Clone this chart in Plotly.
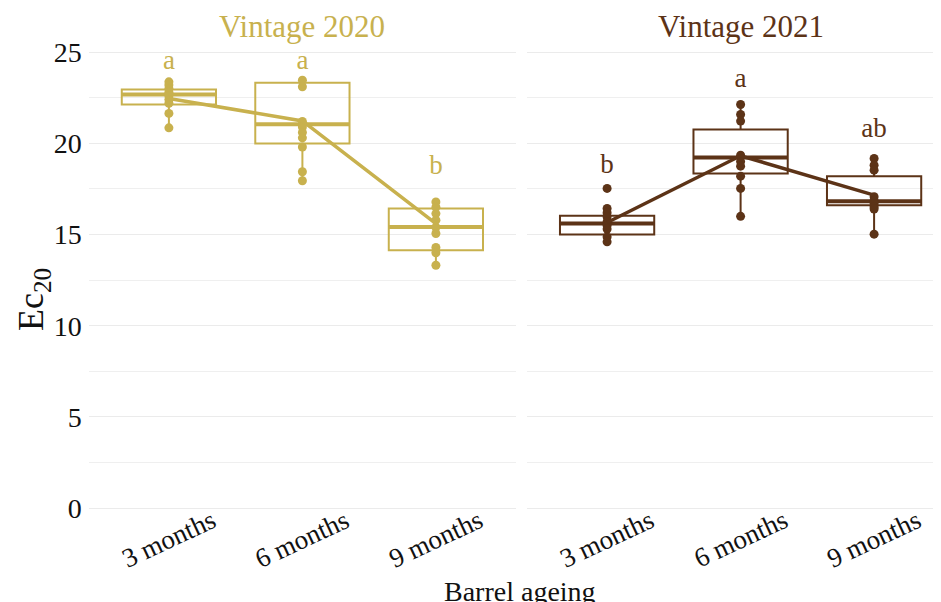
import plotly.graph_objects as go

categories = ["3 months", "6 months", "9 months"]
cat_pos = [1, 2, 3]

# Vintage 2020 individual values
v2020_3m = [23.37, 23.2, 23.0, 22.8, 22.6, 22.4, 22.2, 21.64, 20.85]
v2020_6m = [23.46, 23.1, 21.2, 20.9, 20.6, 20.3, 19.8, 18.44, 17.95]
v2020_9m = [16.79, 16.5, 16.15, 15.79, 15.4, 15.06, 14.29, 14.0, 13.32]
# Vintage 2021 individual values
v2021_3m = [17.53, 16.43, 16.2, 15.97, 15.7, 15.5, 15.3, 14.87, 14.6]
v2021_6m = [22.13, 21.58, 21.22, 19.35, 19.0, 18.75, 18.2, 17.53, 16.0]
v2021_9m = [19.17, 18.8, 18.53, 17.07, 16.85, 16.7, 16.52, 16.4, 15.02]

# Box statistics
v2020_q1 = [22.13, 19.99, 14.14]
v2020_median = [22.68, 21.05, 15.42]
v2020_q3 = [22.95, 23.32, 16.43]
v2020_lower = [20.85, 17.95, 13.32]
v2020_upper = [23.37, 23.46, 16.79]
v2020_mean = [22.46, 21.23, 15.6]
v2020_letters = ["a", "a", "b"]
v2020_letter_y = [24.46, 24.46, 18.69]

v2021_q1 = [15.0, 18.35, 16.61]
v2021_median = [15.61, 19.23, 16.83]
v2021_q3 = [16.03, 20.76, 18.2]
v2021_lower = [14.6, 16.0, 15.02]
v2021_upper = [16.43, 22.13, 19.17]
v2021_mean = [15.66, 19.32, 17.16]
v2021_letters = ["b", "a", "ab"]
v2021_letter_y = [18.75, 23.45, 20.7]

y_ticks = [0, 5, 10, 15, 20, 25]

GOLD = "#C8B14E"
BROWN = "#5C3317"
TXT = "#111111"
FONT = "Liberation Serif"
BOX_W = 0.706
OFF = 8  # page body margin offset

fig = go.Figure()


def add_panel(xa, ya, color, q1, med, q3, lo, hi, mean, pts, letters, letter_y):
    fig.add_trace(go.Box(
        x=cat_pos, q1=q1, median=med, q3=q3, lowerfence=lo, upperfence=hi,
        width=BOX_W, boxpoints=False, whiskerwidth=0,
        line=dict(color=color, width=2), fillcolor="rgba(0,0,0,0)",
        xaxis=xa, yaxis=ya, showlegend=False, hoverinfo="skip"))
    mx, my = [], []
    for c, m in zip(cat_pos, med):
        mx += [c - BOX_W / 2, c + BOX_W / 2, None]
        my += [m, m, None]
    fig.add_trace(go.Scatter(x=mx, y=my, mode="lines",
                             line=dict(color=color, width=4),
                             xaxis=xa, yaxis=ya, showlegend=False, hoverinfo="skip"))
    px, py = [], []
    for c, vals in zip(cat_pos, pts):
        px += [c] * len(vals)
        py += vals
    fig.add_trace(go.Scatter(x=px, y=py, mode="markers",
                             marker=dict(color=color, size=9),
                             xaxis=xa, yaxis=ya, showlegend=False))
    fig.add_trace(go.Scatter(x=cat_pos, y=mean, mode="lines",
                             line=dict(color=color, width=3.5),
                             xaxis=xa, yaxis=ya, showlegend=False))
    fig.add_trace(go.Scatter(x=cat_pos, y=letter_y, mode="text", text=letters,
                             textposition="middle center",
                             textfont=dict(family=FONT, size=27, color=color),
                             xaxis=xa, yaxis=ya, showlegend=False, hoverinfo="skip"))


add_panel("x", "y", GOLD, v2020_q1, v2020_median, v2020_q3, v2020_lower, v2020_upper,
          v2020_mean, [v2020_3m, v2020_6m, v2020_9m], v2020_letters, v2020_letter_y)
add_panel("x2", "y2", BROWN, v2021_q1, v2021_median, v2021_q3, v2021_lower, v2021_upper,
          v2021_mean, [v2021_3m, v2021_6m, v2021_9m], v2021_letters, v2021_letter_y)

W, H = 941 - OFF, 602 - OFF
top, bottom = 39 - OFF, 510 - OFF
grid = dict(showgrid=True, gridcolor="#EBEBEB", gridwidth=1.2, zeroline=False,
            range=[-0.1, 25.72], tickvals=y_ticks,
            minor=dict(tickvals=[2.5, 7.5, 12.5, 17.5, 22.5], showgrid=True,
                       gridcolor="#EFEFEF", gridwidth=1),
            showline=False, ticks="", automargin=False)

fig.update_layout(
    width=W, height=H,
    margin=dict(l=0, r=0, t=top, b=H - bottom),
    plot_bgcolor="white", paper_bgcolor="white",
    font=dict(family=FONT, color=TXT),
    xaxis=dict(domain=[(88.8 - OFF) / W, (516 - OFF) / W], range=[0.4, 3.6], showgrid=False,
               zeroline=False, showticklabels=False, ticks="", automargin=False),
    xaxis2=dict(domain=[(527 - OFF) / W, 1.0], range=[0.4, 0.4 + (941 - 527) / 133.5],
                showgrid=False, zeroline=False, showticklabels=False, ticks="",
                automargin=False),
    yaxis=dict(**grid, anchor="x", tickfont=dict(family=FONT, size=28, color=TXT),
               ticklabelstandoff=6),
    yaxis2=dict(**grid, anchor="x2", matches="y", showticklabels=False),
)

ann = []
ph = bottom - top
for xr in ("x", "x2"):
    for c, lab in zip(cat_pos, categories):
        ann.append(dict(x=c, xref=xr, y=(bottom - (539 - OFF)) / ph, yref="paper",
                        text=lab, showarrow=False, textangle=-25,
                        xanchor="center", yanchor="middle",
                        font=dict(family=FONT, size=27, color=TXT)))
ann.append(dict(x=2, xref="x", y=(bottom - (26.5 - OFF)) / ph, yref="paper",
                text="Vintage 2020", showarrow=False, xanchor="center", yanchor="middle",
                font=dict(family=FONT, size=31, color=GOLD)))
ann.append(dict(x=2, xref="x2", y=(bottom - (26.5 - OFF)) / ph, yref="paper",
                text="Vintage 2021", showarrow=False, xanchor="center", yanchor="middle",
                font=dict(family=FONT, size=31, color=BROWN)))
ann.append(dict(x=(520 - OFF) / W, xref="paper", y=(bottom - (574 - OFF)) / ph, yref="paper",
                text="Barrel ageing", showarrow=False, xanchor="center", yanchor="top",
                font=dict(family=FONT, size=28, color=TXT)))
ann.append(dict(x=(33 - OFF) / W, xref="paper", y=(bottom - (300 - OFF)) / ph, yref="paper",
                text="Ec<sub>20</sub>", showarrow=False, textangle=-90,
                xanchor="center", yanchor="middle",
                font=dict(family=FONT, size=36, color=TXT)))
fig.update_layout(annotations=ann)

fig.write_html("out.html")
